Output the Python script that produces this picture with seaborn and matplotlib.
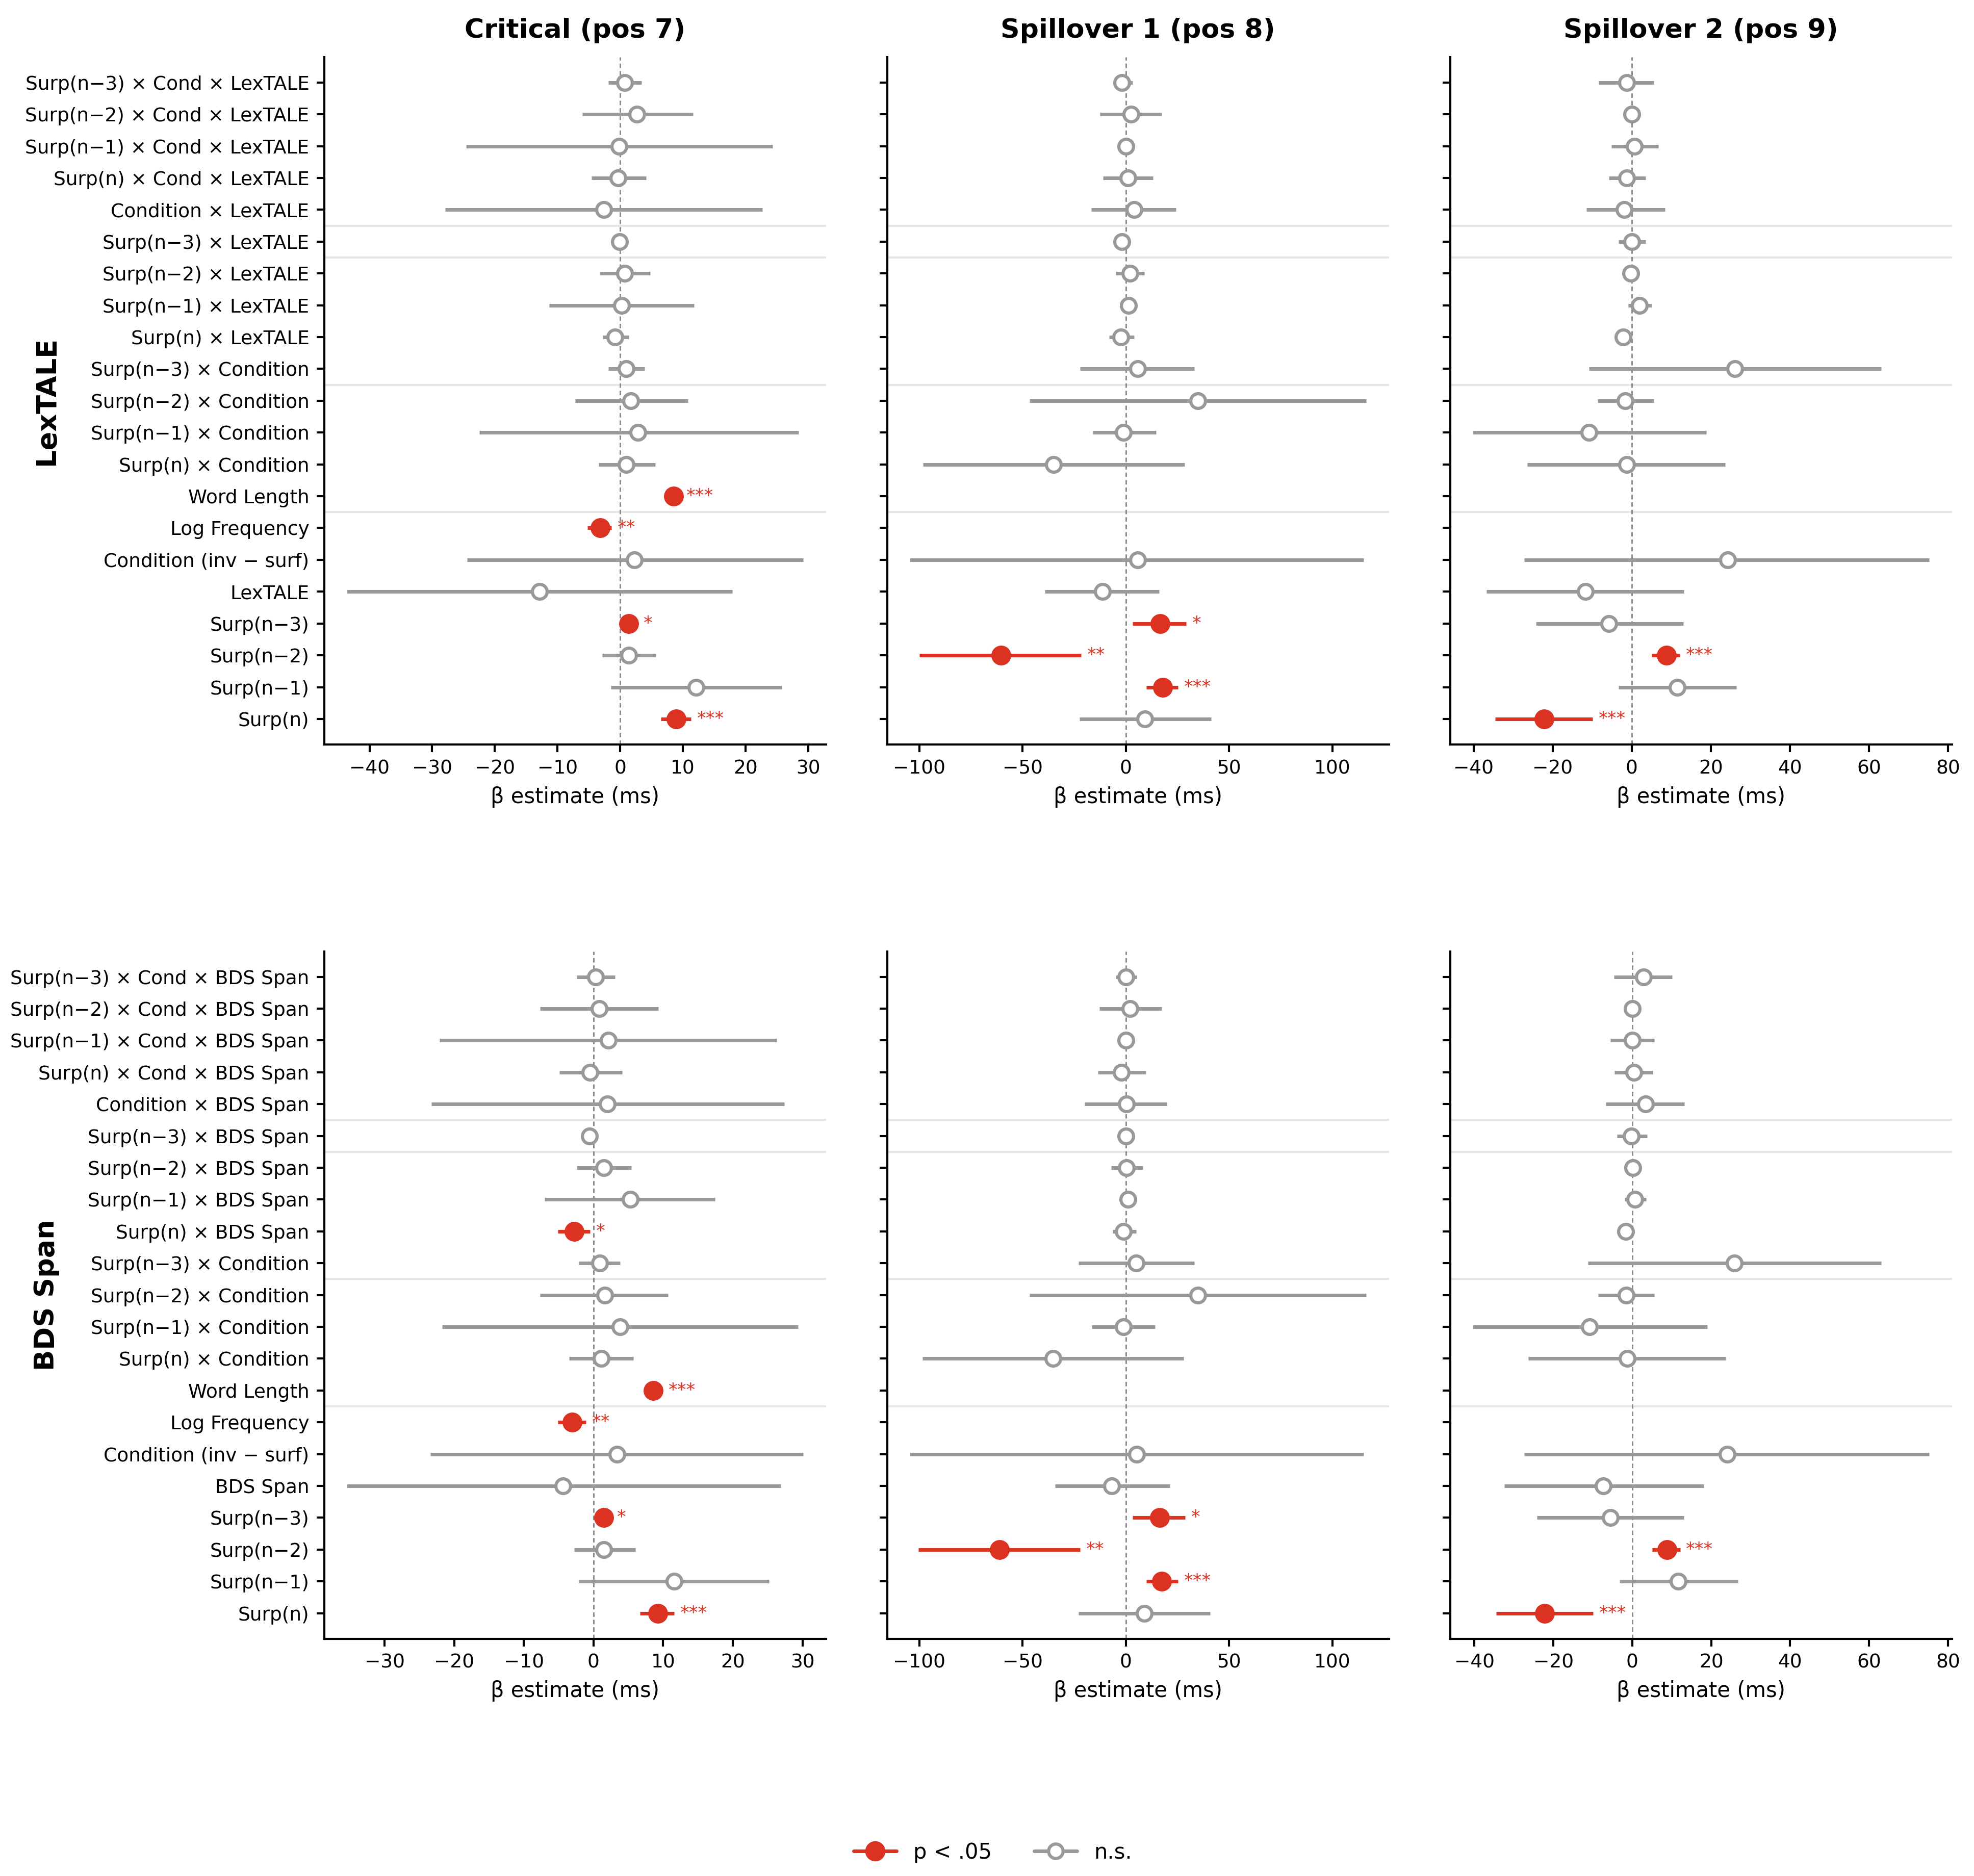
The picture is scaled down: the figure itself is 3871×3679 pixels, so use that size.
import numpy as np
import pandas as pd
import matplotlib
matplotlib.use("Agg")
import matplotlib.pyplot as plt
import seaborn as sns
from matplotlib.lines import Line2D
from matplotlib.ticker import MultipleLocator

nan = np.nan

# ---------------- data ----------------
lex_terms = [
    "Surp(n−3) × Cond × LexTALE", "Surp(n−2) × Cond × LexTALE",
    "Surp(n−1) × Cond × LexTALE", "Surp(n) × Cond × LexTALE",
    "Condition × LexTALE", "Surp(n−3) × LexTALE", "Surp(n−2) × LexTALE",
    "Surp(n−1) × LexTALE", "Surp(n) × LexTALE", "Surp(n−3) × Condition",
    "Surp(n−2) × Condition", "Surp(n−1) × Condition", "Surp(n) × Condition",
    "Word Length", "Log Frequency", "Condition (inv − surf)", "LexTALE",
    "Surp(n−3)", "Surp(n−2)", "Surp(n−1)", "Surp(n)",
]
bds_terms = [
    "Surp(n−3) × Cond × BDS Span", "Surp(n−2) × Cond × BDS Span",
    "Surp(n−1) × Cond × BDS Span", "Surp(n) × Cond × BDS Span",
    "Condition × BDS Span", "Surp(n−3) × BDS Span", "Surp(n−2) × BDS Span",
    "Surp(n−1) × BDS Span", "Surp(n) × BDS Span", "Surp(n−3) × Condition",
    "Surp(n−2) × Condition", "Surp(n−1) × Condition", "Surp(n) × Condition",
    "Word Length", "Log Frequency", "Condition (inv − surf)", "BDS Span",
    "Surp(n−3)", "Surp(n−2)", "Surp(n−1)", "Surp(n)",
]

col_titles = ["Critical (pos 7)", "Spillover 1 (pos 8)", "Spillover 2 (pos 9)"]
row_titles = ["LexTALE", "BDS Span"]
col_tick_steps = [10, 50, 20]

# LexTALE models
lex_crit_est = [0.7, 2.7, -0.2, -0.3, -2.6, -0.1, 0.7, 0.2, -0.8, 1.0, 1.7, 2.8, 1.0, 8.5, -3.2, 2.3, -12.9, 1.4, 1.4, 12.1, 8.9]
lex_crit_lo = [-1.9, -6.0, -24.6, -4.6, -27.9, -0.6, -3.3, -11.3, -2.8, -1.9, -7.2, -22.5, -3.4, 7.3, -5.2, -24.4, -43.6, 0.3, -2.9, -1.5, 6.5]
lex_crit_hi = [3.4, 11.6, 24.3, 4.1, 22.7, 0.4, 4.8, 11.8, 1.4, 3.9, 10.8, 28.5, 5.6, 9.6, -1.4, 29.2, 17.9, 2.8, 5.7, 25.8, 11.3]
lex_crit_sig = ["", "", "", "", "", "", "", "", "", "", "", "", "", "***", "**", "", "", "*", "", "", "***"]

lex_sp1_est = [-1.8, 2.5, 0.0, 1.1, 3.9, -1.8, 2.1, 1.4, -2.5, 5.7, 34.9, -1.1, -34.9, nan, nan, 5.7, -11.4, 16.7, -60.5, 17.8, 9.3]
lex_sp1_lo = [-6.0, -12.5, -2.5, -11.0, -16.7, -3.6, -5.0, -0.7, -8.2, -22.1, -46.6, -16.0, -98.2, nan, nan, -104.6, -39.1, 3.2, -100.0, 10.0, -22.4]
lex_sp1_hi = [3.2, 17.4, 2.5, 13.2, 24.2, 0.4, 8.9, 3.6, 3.9, 33.1, 116.4, 14.6, 28.5, nan, nan, 115.3, 16.0, 29.2, -21.7, 25.3, 41.3]
lex_sp1_sig = ["", "", "", "", "", "", "", "", "", "", "", "", "", "", "", "", "", "*", "**", "***", ""]

lex_sp2_est = [-1.3, 0.0, 0.7, -1.3, -1.9, 0.0, -0.2, 2.0, -2.2, 26.1, -1.7, -10.8, -1.3, nan, nan, 24.2, -11.7, -5.8, 8.8, 11.5, -22.2]
lex_sp2_lo = [-8.4, -0.9, -5.2, -5.8, -11.5, -3.4, -1.1, -0.9, -4.2, -10.8, -8.6, -40.2, -26.4, nan, nan, -27.2, -36.7, -24.2, 5.0, -3.4, -34.5]
lex_sp2_hi = [5.6, 0.9, 6.7, 3.5, 8.4, 3.5, 0.9, 5.0, -0.2, 63.1, 5.6, 18.8, 23.6, nan, nan, 75.2, 13.2, 13.0, 12.1, 26.4, -9.9]
lex_sp2_sig = ["", "", "", "", "", "", "", "", "", "", "", "", "", "", "", "", "", "", "***", "", "***"]

# BDS Span models
bds_crit_est = [0.3, 0.8, 2.1, -0.5, 2.0, -0.6, 1.5, 5.3, -2.8, 0.9, 1.6, 3.8, 1.1, 8.6, -3.1, 3.4, -4.4, 1.5, 1.5, 11.6, 9.2]
bds_crit_lo = [-2.4, -7.7, -22.1, -4.9, -23.3, -1.7, -2.4, -7.0, -5.1, -2.1, -7.7, -21.7, -3.5, 7.3, -5.1, -23.4, -35.4, 0.2, -2.8, -2.1, 6.7]
bds_crit_hi = [3.1, 9.3, 26.3, 4.1, 27.4, 0.5, 5.4, 17.4, -0.5, 3.8, 10.7, 29.4, 5.7, 9.9, -1.1, 30.1, 26.9, 2.5, 6.0, 25.2, 11.6]
bds_crit_sig = ["", "", "", "", "", "", "", "", "*", "", "", "", "", "***", "**", "", "", "*", "", "", "***"]

bds_sp1_est = [0.0, 2.1, 0.0, -2.1, 0.4, 0.0, 0.4, 1.1, -1.1, 5.0, 34.9, -1.1, -35.2, nan, nan, 5.3, -6.8, 16.4, -61.2, 17.4, 8.9]
bds_sp1_lo = [-5.0, -12.8, -2.0, -13.5, -19.9, -1.8, -7.1, -1.1, -6.4, -22.8, -46.6, -16.4, -98.6, nan, nan, -104.6, -34.2, 3.2, -100.4, 10.0, -22.8]
bds_sp1_hi = [5.3, 17.4, 2.0, 9.6, 19.9, 1.8, 8.2, 3.2, 5.0, 33.1, 116.4, 14.2, 28.1, nan, nan, 115.3, 21.4, 28.8, -22.1, 25.3, 40.9]
bds_sp1_sig = ["", "", "", "", "", "", "", "", "", "", "", "", "", "", "", "", "", "*", "**", "***", ""]

bds_sp2_est = [2.8, 0.0, 0.0, 0.4, 3.4, -0.2, 0.2, 0.7, -1.7, 25.9, -1.5, -10.8, -1.3, nan, nan, 24.0, -7.3, -5.6, 8.8, 11.7, -22.2]
bds_sp2_lo = [-4.7, -0.9, -5.6, -4.5, -6.7, -3.9, -0.9, -1.9, -3.6, -11.2, -8.6, -40.4, -26.4, nan, nan, -27.4, -32.4, -24.2, 5.0, -3.2, -34.5]
bds_sp2_hi = [10.1, 0.9, 5.6, 5.2, 13.2, 3.7, 1.3, 3.5, 0.1, 63.1, 5.6, 19.0, 23.6, nan, nan, 75.2, 18.1, 13.0, 12.1, 26.8, -9.9]
bds_sp2_sig = ["", "", "", "", "", "", "", "", "", "", "", "", "", "", "", "", "", "", "***", "", "***"]

# group separators (drawn after these row indices, top-down)
separator_after = [4, 5, 9, 13]

panels = [
    [(lex_terms, lex_crit_est, lex_crit_lo, lex_crit_hi, lex_crit_sig),
     (lex_terms, lex_sp1_est, lex_sp1_lo, lex_sp1_hi, lex_sp1_sig),
     (lex_terms, lex_sp2_est, lex_sp2_lo, lex_sp2_hi, lex_sp2_sig)],
    [(bds_terms, bds_crit_est, bds_crit_lo, bds_crit_hi, bds_crit_sig),
     (bds_terms, bds_sp1_est, bds_sp1_lo, bds_sp1_hi, bds_sp1_sig),
     (bds_terms, bds_sp2_est, bds_sp2_lo, bds_sp2_hi, bds_sp2_sig)],
]

# ---------------- style ----------------
RED = "#db3222"
GREY = "#999999"
LW = 1.7

sns.set_theme(style="ticks")
plt.rcParams.update({
    "font.family": ["DejaVu Sans"],
    "axes.linewidth": 1.0,
    "xtick.major.size": 3.5, "ytick.major.size": 3.5,
    "xtick.major.width": 1.0, "ytick.major.width": 1.0,
    "xtick.labelsize": 9, "ytick.labelsize": 9,
    "axes.labelsize": 10,
    "axes.edgecolor": "black",
    "xtick.color": "black", "ytick.color": "black",
    "text.color": "black", "axes.labelcolor": "black",
})

fig, axes = plt.subplots(2, 3, figsize=(3871 / 300, 3679 / 300), dpi=300)
fig.subplots_adjust(left=0.1642, right=0.9888, top=0.9696, bottom=0.1265,
                    wspace=0.1218, hspace=0.301)

for r in range(2):
    for c in range(3):
        ax = axes[r, c]
        terms, est, lo, hi, sig = panels[r][c]
        n = len(terms)
        df = pd.DataFrame({
            "term": terms, "est": est, "lo": lo, "hi": hi, "sig": sig,
        })
        df["y"] = n - 1 - np.arange(n)
        df["is_sig"] = df["sig"] != ""
        d = df.dropna(subset=["est"])

        for i in separator_after:
            ax.axhline(n - 1 - i - 0.5, color="#e6e6e6", lw=1.0, zorder=0)
        ax.axvline(0, color="#8a8a8a", lw=0.7, ls=(0, (3, 2)), zorder=1)

        ns = d[~d["is_sig"]]
        sg = d[d["is_sig"]]
        ax.hlines(ns["y"], ns["lo"], ns["hi"], color=GREY, lw=LW, zorder=2)
        ax.hlines(sg["y"], sg["lo"], sg["hi"], color=RED, lw=LW, zorder=2)
        sns.scatterplot(data=ns, x="est", y="y", ax=ax, color="white",
                        edgecolor=GREY, linewidth=1.5, s=48, zorder=3,
                        legend=False)
        sns.scatterplot(data=sg, x="est", y="y", ax=ax, color=RED,
                        edgecolor=RED, linewidth=0.5, s=78, zorder=3,
                        legend=False)

        ax.set_ylim(-0.8, n - 1 + 0.8)
        ax.set_yticks(df["y"])
        if c == 0:
            ax.set_yticklabels(df["term"])
        else:
            ax.set_yticklabels([])
        ax.xaxis.set_major_locator(MultipleLocator(col_tick_steps[c]))
        ax.set_ylabel("")
        ax.set_xlabel("β estimate (ms)")
        sns.despine(ax=ax)

        x0, x1 = ax.get_xlim()
        off = 0.012 * (x1 - x0)
        for _, row in sg.iterrows():
            ax.text(row["hi"] + off, row["y"], row["sig"], color=RED,
                    fontsize=8.5, ha="left", va="center", zorder=4)

        if r == 0:
            ax.set_title(col_titles[c], fontsize=12.5, fontweight="bold", pad=9)

for r, title in enumerate(row_titles):
    pos = axes[r, 0].get_position()
    fig.text(0.0235, (pos.y0 + pos.y1) / 2, title, rotation=90,
             fontsize=13, fontweight="bold", ha="center", va="center")

handles = [
    Line2D([0], [0], color=RED, lw=LW, marker="o", markersize=8.5,
           markerfacecolor=RED, markeredgecolor=RED),
    Line2D([0], [0], color=GREY, lw=LW, marker="o", markersize=6.8,
           markerfacecolor="white", markeredgecolor=GREY, markeredgewidth=1.5),
]
fig.legend(handles, ["p < .05", "n.s."], loc="center", ncol=2,
           bbox_to_anchor=(0.503, 0.0125), frameon=False, fontsize=10,
           handlelength=2.0, columnspacing=2.0)

fig.savefig("out.png", dpi=300)
